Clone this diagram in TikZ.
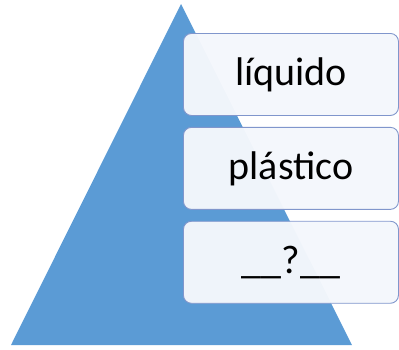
\documentclass[tikz,border=0pt]{standalone}
\usepackage{fontspec}
\setmainfont{Carlito}
\usepackage{tikz}
\usetikzlibrary{positioning}
\definecolor{pyrblue}{RGB}{91, 155, 213}
\definecolor{boxline}{RGB}{128, 150, 204}
\definecolor{boxfill}{RGB}{244, 247, 252}

\tikzset{
  level/.style={draw=boxline, line width=0.9pt, fill=boxfill, fill opacity=0.97,
                text opacity=1, rounded corners=8pt, minimum width=215pt,
                minimum height=82pt, inner sep=0pt, font=\fontsize{40}{44}\selectfont}
}

\begin{document}
\begin{tikzpicture}[x=1pt, y=-1pt]
  \useasboundingbox (0,0) rectangle (399,349);
  %---- the pyramid ----------------------------------------------------------
  \coordinate (apex) at (181,4);
  \coordinate (baseL) at (11,345);
  \coordinate (baseR) at (352,345);
  \fill[pyrblue] (apex) -- (baseR) -- (baseL) -- cycle;
  %---- the three levels -----------------------------------------------------
  \node[level, anchor=north west] (liquid) at (183,33) {líquido};
  \node[level, below=11pt of liquid] (plastic) {plástico};
  \node[level, below=11pt of plastic] (unknown) {\_\_?\_\_};
\end{tikzpicture}
\end{document}
